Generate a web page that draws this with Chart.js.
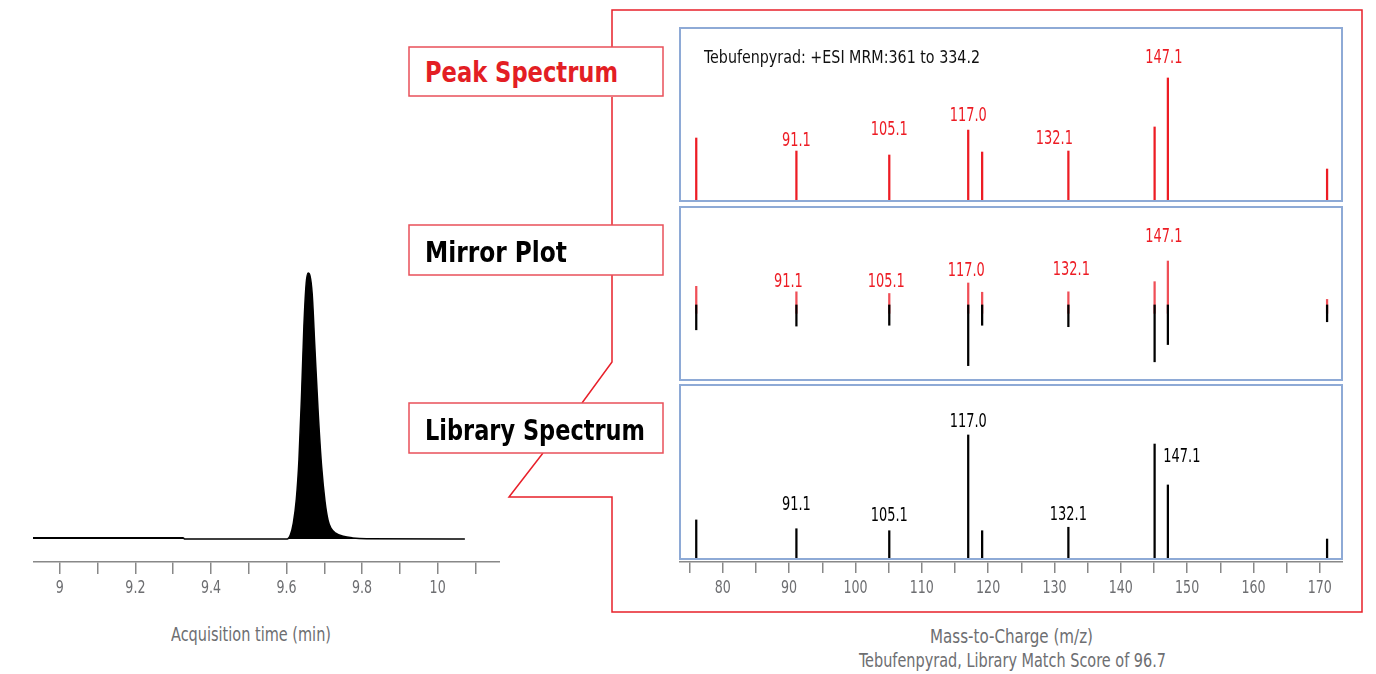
<!DOCTYPE html>
<html>
<head>
<meta charset="utf-8">
<script src="https://cdn.jsdelivr.net/npm/chart.js@4.4.1/dist/chart.umd.min.js"></script>
<style>
  body { margin: 0; width: 1376px; height: 674px; background: #fff; position: relative; overflow: hidden; }
  canvas, svg { position: absolute; }
  .t { position: absolute; white-space: nowrap; line-height: 1; transform-origin: 0 0;
       font-family: "Liberation Sans Narrow", "DejaVu Sans Condensed", "Roboto", sans-serif; }
  .box { font-weight: bold; font-size: 29px; color: #000; }
  .gray { color: #6d6e71; font-size: 19px; }
</style>
</head>
<body>

<svg width="1376" height="674" style="left:0;top:0">
  <g fill="none" stroke="#e8202a" stroke-width="1.5">
    <path d="M612,47 L612,10 L1362,10 L1362,612 L612,612 L612,497 L509,497 L543,453" />
    <path d="M612,97 L612,225" />
    <path d="M612,275 L612,362 L582,403" />
  </g>
  <g fill="#fff" stroke="#e9505a" stroke-width="1.5">
    <rect x="409" y="47" width="254" height="49" />
    <rect x="409" y="225" width="254" height="50" />
    <rect x="409" y="403" width="254" height="50" />
  </g>
</svg>

<canvas id="chrom" width="467" height="340" style="left:33px;top:262px"></canvas>
<canvas id="peak" width="664" height="175" style="left:679px;top:27px"></canvas>
<canvas id="mirror" width="664" height="175" style="left:679px;top:206px"></canvas>
<canvas id="library" width="664" height="218" style="left:679px;top:384px"></canvas>

<div class="t box" style="left:425px;top:58px;color:#e31e24" data-w="193">Peak Spectrum</div>
<div class="t box" style="left:425px;top:238px" data-w="142">Mirror Plot</div>
<div class="t box" style="left:425px;top:416px" data-w="220">Library Spectrum</div>
<div class="t" style="left:704px;top:48px;font-size:18px;color:#111" data-w="276">Tebufenpyrad: +ESI MRM:361 to 334.2</div>
<div class="t gray" style="left:171px;top:625px" data-w="160">Acquisition time (min)</div>
<div class="t gray" style="left:930px;top:627px" data-w="163">Mass-to-Charge (m/z)</div>
<div class="t gray" style="left:859px;top:651px" data-w="307">Tebufenpyrad, Library Match Score of 96.7</div>

<script>
// chromatogram: acquisition time (min) and relative abundance (%)
const timeMin = [8.929, 9.326, 9.330, 9.602, 9.610, 9.618, 9.626, 9.633, 9.640, 9.646, 9.652, 9.657,
                 9.662, 9.668, 9.675, 9.684, 9.693, 9.702, 9.710, 9.718, 9.730, 9.750, 9.775, 9.812, 10.072];
const abundance = [0.5, 0.5, 0, 0, 1.5, 6, 15, 30, 55, 80, 96, 100,
                   99, 92, 72, 47, 27, 14, 7, 4, 2.2, 1.0, 0.4, 0.1, 0];

// MS/MS spectra: m/z and relative intensity (%)
const mzValues = [76.0, 91.1, 105.1, 117.0, 119.1, 132.1, 145.1, 147.1, 171.1];
const peakIntensity = [51.6, 41.1, 37.9, 58.0, 40.3, 41.1, 60.5, 100, 26.6];
const libraryIntensity = [31.5, 24.4, 22.8, 100, 22.8, 25.6, 92.7, 59.7, 16.1];
const labelledMz = [91.1, 105.1, 117.0, 132.1, 147.1];

const FONT = '"Liberation Sans Narrow", "DejaVu Sans Condensed", Roboto, sans-serif';
const RED = '#ed1c24';
const GRAY = '#6d6e71';

// squeeze the html texts to the widths of the original lettering
document.querySelectorAll('[data-w]').forEach(el => {
  const k = +el.dataset.w / el.getBoundingClientRect().width;
  el.style.transform = 'scaleX(' + k + ')';
});

// condensed text, like the instrument's font
function narrowText(ctx, text, x, y, squeeze) {
  ctx.save();
  ctx.translate(x, y);
  ctx.scale(squeeze, 1);
  ctx.fillText(text, 0, 0);
  ctx.restore();
}

const panelBorder = {
  id: 'panelBorder',
  afterDatasetsDraw(chart, args, opts) {
    const { ctx, chartArea: a, scales: { y } } = chart;
    const bottom = opts.toZero ? y.getPixelForValue(0) : a.bottom - 1;
    ctx.save();
    ctx.strokeStyle = '#8eaad6';
    ctx.lineWidth = 2;
    ctx.strokeRect(a.left + 1, a.top + 1, a.right - a.left - 2, bottom - a.top - 1);
    ctx.restore();
  }
};

const peakLabels = {
  id: 'peakLabels',
  afterDatasetsDraw(chart, args, opts) {
    const { ctx, scales: { x, y } } = chart;
    ctx.save();
    ctx.font = '20px ' + FONT;
    ctx.fillStyle = opts.color;
    ctx.textAlign = 'center';
    ctx.textBaseline = 'middle';
    labelledMz.forEach((mz, k) => {
      const i = mzValues.indexOf(mz);
      const top = y.getPixelForValue(opts.values[i]);
      narrowText(ctx, mz.toFixed(1), x.getPixelForValue(mz) + opts.dx[k], top + opts.dy[k], 0.72);
    });
    ctx.restore();
  }
};

// tick labels of the x axis
const axisLabels = {
  id: 'axisLabels',
  afterDraw(chart) {
    const s = chart.scales.x;
    if (!s.options.display) return;
    const { ctx } = chart;
    ctx.save();
    ctx.font = '18px ' + FONT;
    ctx.fillStyle = GRAY;
    ctx.textAlign = 'center';
    ctx.textBaseline = 'middle';
    s.ticks.forEach(t => {
      if (t.label) narrowText(ctx, String(t.label), s.getPixelForValue(t.value), s.top + 26, 0.78);
    });
    ctx.restore();
  }
};

function sticks(values, color, base) {
  return {
    data: mzValues.map((mz, i) => ({ x: mz, y: base === undefined ? values[i] : [base, values[i]] })),
    backgroundColor: color,
    borderWidth: 0,
    barThickness: 1.6,
    grouped: false
  };
}

function massAxis(show) {
  if (!show) return { type: 'linear', min: 73.4, max: 173.5, display: false, offset: false };
  return {
    type: 'linear', min: 73.4, max: 173.5, offset: false,
    afterFit(s) { s.height = 40; },
    border: { color: '#888', width: 1.5 },
    grid: { offset: false, drawOnChartArea: false, tickLength: 11, color: '#888', lineWidth: 1.5 },
    ticks: {
      display: false, stepSize: 5, maxTicksLimit: 100, includeBounds: false, autoSkip: false,
      callback: v => (Math.round(v) % 10 === 0 ? String(Math.round(v)) : '')
    }
  };
}

function spectrum(id, datasets, yMin, yMax, labels, border, showAxis) {
  return new Chart(document.getElementById(id), {
    type: 'bar',
    data: { datasets: datasets },
    options: {
      responsive: false, animation: false, events: [],
      layout: { padding: 0 },
      plugins: { legend: { display: false }, tooltip: { enabled: false },
                 peakLabels: labels, panelBorder: border },
      scales: {
        x: massAxis(showAxis),
        y: { display: false, min: yMin, max: yMax }
      }
    },
    plugins: [panelBorder, peakLabels, axisLabels]
  });
}

new Chart(document.getElementById('chrom'), {
  type: 'line',
  data: {
    datasets: [{
      data: timeMin.map((t, i) => ({ x: t, y: abundance[i] })),
      borderColor: '#000', backgroundColor: '#000', borderWidth: 1.5,
      pointRadius: 0, fill: 'origin', cubicInterpolationMode: 'monotone'
    }]
  },
  options: {
    responsive: false, animation: false, events: [],
    plugins: { legend: { display: false }, tooltip: { enabled: false } },
    scales: {
      x: {
        type: 'linear', min: 8.929, max: 10.165,
        afterFit(s) { s.height = 40; },
        border: { color: '#888', width: 1.5 },
        grid: { drawOnChartArea: false, tickLength: 12, color: '#888', lineWidth: 1.5 },
        ticks: {
          display: false, stepSize: 0.1, maxTicksLimit: 100, includeBounds: false, autoSkip: false,
          callback: v => (Math.round(v * 10) % 2 === 0 ? String(Math.round(v * 10) / 10) : '')
        }
      },
      y: { display: false, min: -8.65, max: 104.1 }
    }
  },
  plugins: [axisLabels]
});

// peak spectrum
spectrum('peak', [sticks(peakIntensity, RED)], 0, 141.1,
  { color: RED, values: peakIntensity, dx: [0, 0, 0, -14, -4], dy: [-10, -25, -14, -12, -20] },
  { toZero: false }, false);

// mirror plot: library pointing down, acquired spectrum up
spectrum('mirror', [
    sticks(libraryIntensity.map(v => -v), '#000', 16),
    sticks(peakIntensity, 'rgba(235,30,40,0.78)')
  ], -129.4, 205.2,
  { color: RED, values: peakIntensity, dx: [-8, -3, -2, 3, -4], dy: [-10, -12, -12, -22, -24] },
  { toZero: false }, false);

// library spectrum
spectrum('library', [sticks(libraryIntensity, '#000')], -2.42, 141.1,
  { color: '#000', values: libraryIntensity, dx: [0, 0, 0, 0, 14], dy: [-24, -15, -13, -12, -28] },
  { toZero: true }, true);
</script>
</body>
</html>
